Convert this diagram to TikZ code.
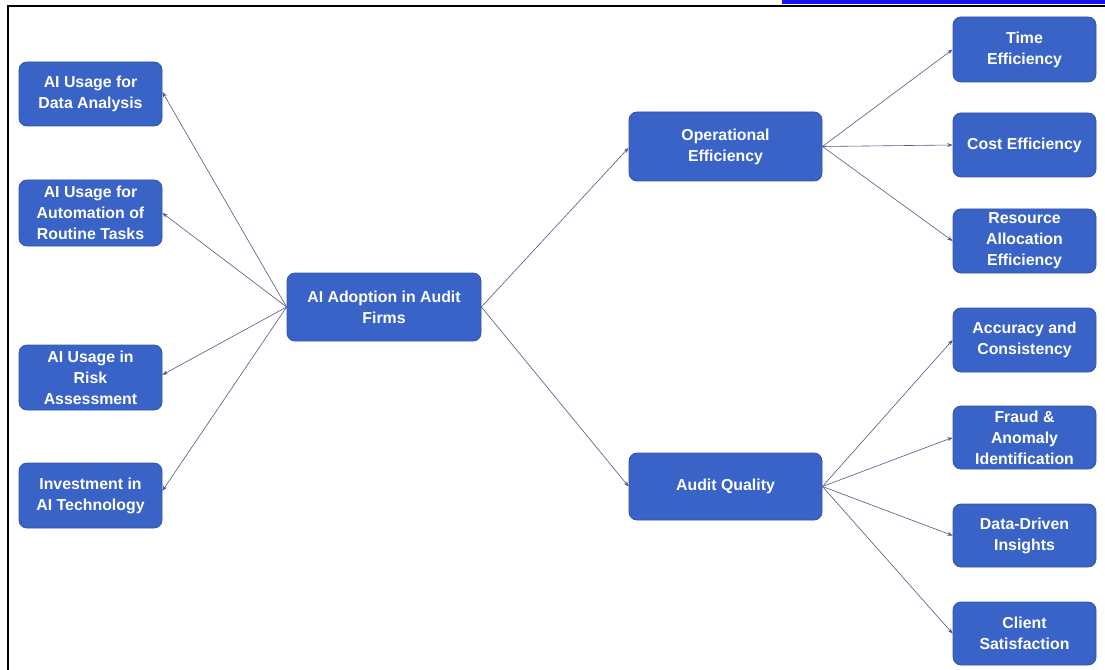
\documentclass[tikz,border=0pt]{standalone}
\usepackage{fontspec}
\setmainfont{Liberation Sans}
\usetikzlibrary{arrows.meta}
\definecolor{boxblue}{RGB}{58,99,200}
\definecolor{boxedge}{RGB}{48,84,175}
\definecolor{linkc}{RGB}{50,58,110}
\definecolor{hlink}{RGB}{20,20,240}
\tikzset{
  box/.style={draw=boxedge, line width=0.6pt, fill=boxblue, rounded corners=6pt,
    text=white, font=\bfseries\fontsize{11.9}{15.8}\selectfont, align=center,
    inner sep=0pt, minimum width=#1},
  box/.default={107.25pt},
  conn/.style={draw=linkc!85, line width=0.45pt, -{Stealth[length=4pt,width=3pt]}}
}
\begin{document}
\begin{tikzpicture}[x=0.75pt,y=-0.75pt]
\useasboundingbox (0,0) rectangle (1105,670);
% frame
\draw[line width=1.4pt, black] (8,670) -- (8,6) -- (1105,6);
\fill[hlink] (782,0) rectangle (1105,4);
% nodes
\node[box, minimum height=48pt] (da) at (90.5,94) {AI Usage for\\Data Analysis};
\node[box, minimum height=49.5pt] (au) at (90.5,213) {AI Usage for\\Automation of\\Routine Tasks};
\node[box, minimum height=48.75pt] (ra) at (90.5,377.5) {AI Usage in\\Risk\\Assessment};
\node[box, minimum height=48.75pt] (in) at (90.5,495.5) {Investment in\\AI Technology};
\node[box=145.5pt, minimum height=51pt] (c) at (384,307) {AI Adoption in Audit\\Firms};
\node[box=144.75pt, minimum height=51.75pt] (op) at (725.5,146.5) {Operational\\Efficiency};
\node[box=144.75pt, minimum height=50.25pt] (aq) at (725.5,486.5) {Audit Quality};
\node[box, minimum height=48.75pt] (te) at (1024.5,49.5) {Time\\Efficiency};
\node[box, minimum height=48pt] (ce) at (1024.5,145) {Cost Efficiency};
\node[box, minimum height=48pt] (re) at (1024.5,241) {Resource\\Allocation\\Efficiency};
\node[box, minimum height=48pt] (ac) at (1024.5,340) {Accuracy and\\Consistency};
\node[box, minimum height=47.25pt] (fr) at (1024.5,437.5) {Fraud \&\\Anomaly\\Identification};
\node[box, minimum height=47.25pt] (dd) at (1024.5,535.5) {Data-Driven\\Insights};
\node[box, minimum height=47.25pt] (cs) at (1024.5,633.5) {Client\\Satisfaction};
% connectors
\draw[conn] (c.west) -- ([yshift=1.5pt]da.east);
\draw[conn] (c.west) -- (au.east);
\draw[conn] (c.west) -- ([yshift=2pt]ra.east);
\draw[conn] (c.west) -- ([yshift=3.5pt]in.east);
\draw[conn] (c.east) -- ([yshift=-1pt]op.west);
\draw[conn] (c.east) -- (aq.west);
\draw[conn] (op.east) -- (te.west);
\draw[conn] (op.east) -- (ce.west);
\draw[conn] (op.east) -- (re.west);
\draw[conn] (aq.east) -- (ac.west);
\draw[conn] (aq.east) -- (fr.west);
\draw[conn] (aq.east) -- (dd.west);
\draw[conn] (aq.east) -- (cs.west);
\end{tikzpicture}
\end{document}
